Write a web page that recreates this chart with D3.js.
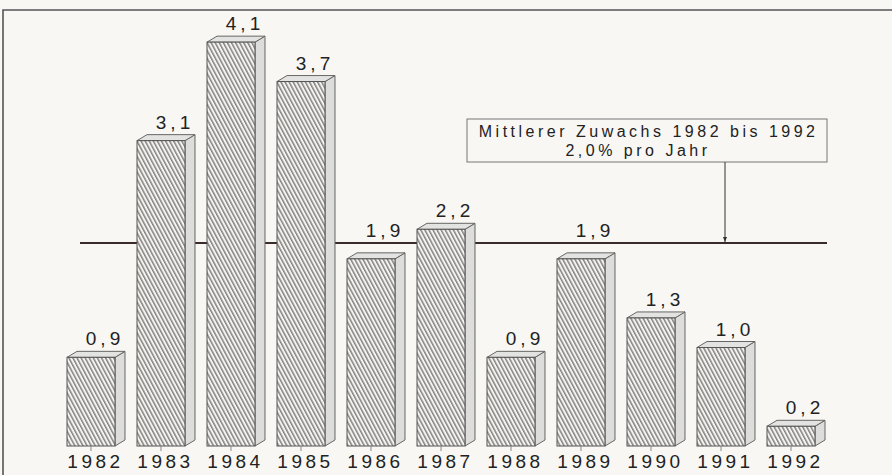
<!DOCTYPE html>
<html>
<head>
<meta charset="utf-8">
<script src="https://cdn.jsdelivr.net/npm/d3@7"></script>
<style>
  html, body { margin: 0; padding: 0; background: #f8f7f4; }
  svg { display: block; font-family: "Liberation Sans", Arial, Helvetica, sans-serif; }
</style>
</head>
<body>
<svg id="chart" width="892" height="475"></svg>
<script>
// ---- data ----
const years = ["1982","1983","1984","1985","1986","1987","1988","1989","1990","1991","1992"];
const values = [0.9, 3.1, 4.1, 3.7, 1.9, 2.2, 0.9, 1.9, 1.3, 1.0, 0.2];
const valueLabels = ["0,9","3,1","4,1","3,7","1,9","2,2","0,9","1,9","1,3","1,0","0,2"];
const meanValue = 2.0;
const noteLines = ["Mittlerer Zuwachs 1982 bis 1992", "2,0% pro Jahr"];

// ---- setup ----
const svg = d3.select("#chart");
const W = 892, H = 475;
const dx = 10, dy = 6; // 3D depth

const x = d3.scaleBand().domain(years).range([67, 815]).paddingInner(0.3143).paddingOuter(0);
const y = d3.scaleLinear().domain([0, 4.5]).range([446, 446 - 4.5 * 98.5]);

// hatch pattern
const defs = svg.append("defs");
const pat = defs.append("pattern")
  .attr("id", "hatch").attr("patternUnits", "userSpaceOnUse")
  .attr("width", 3.6).attr("height", 4)
  .attr("patternTransform", "rotate(-28)");
pat.append("rect").attr("width", 3.6).attr("height", 4).attr("fill", "#f4f3f0");
pat.append("line").attr("x1", 0.8).attr("y1", 0).attr("x2", 0.8).attr("y2", 4)
  .attr("stroke", "#4a4a4a").attr("stroke-width", 1.0);

// background
svg.append("rect").attr("width", W).attr("height", H).attr("fill", "#f8f7f4");

// frame (top and left)
svg.append("path")
  .attr("d", `M3,${H} L3,10 L${W},10`)
  .attr("fill", "none").attr("stroke", "#555").attr("stroke-width", 1.6);

// mean line (drawn on the back plane, behind bars)
const meanY = y(meanValue) - dy;
svg.append("line")
  .attr("x1", 80).attr("x2", 827).attr("y1", meanY).attr("y2", meanY)
  .attr("stroke", "#3a2b2b").attr("stroke-width", 2.2);

// bars
const bw = x.bandwidth();
const g = svg.append("g");
years.forEach((yr, i) => {
  const v = values[i];
  const x0 = x(yr), x1 = x0 + bw;
  const yt = y(v), yb = y(0);
  // side face
  g.append("path")
    .attr("d", `M${x1},${yb} L${x1},${yt} L${x1 + dx},${yt - dy} L${x1 + dx},${yb - dy} Z`)
    .attr("fill", "#dddddb").attr("stroke", "#666").attr("stroke-width", 1);
  // top face
  g.append("path")
    .attr("d", `M${x0},${yt} L${x0 + dx},${yt - dy} L${x1 + dx},${yt - dy} L${x1},${yt} Z`)
    .attr("fill", "#e3e3e1").attr("stroke", "#666").attr("stroke-width", 1);
  // front face
  g.append("rect")
    .attr("x", x0).attr("y", yt).attr("width", bw).attr("height", yb - yt)
    .attr("fill", "url(#hatch)").attr("stroke", "#555").attr("stroke-width", 1);
  // value label (lifted above the mean line if it would collide)
  let ly = yt - dy - 6;
  if (ly > meanY - 4 && ly - 14 < meanY + 3) ly = meanY - 6;
  g.append("text")
    .attr("x", x0 + bw / 2 + 14).attr("y", ly)
    .attr("text-anchor", "middle").attr("font-size", 19).attr("letter-spacing", 4)
    .attr("fill", "#222").text(valueLabels[i]);
});

// x axis ticks and labels
const axis = svg.append("g");
years.forEach(yr => {
  const cx = x(yr) + bw / 2;
  axis.append("line").attr("x1", cx).attr("x2", cx).attr("y1", y(0)).attr("y2", y(0) + 5)
    .attr("stroke", "#888").attr("stroke-width", 1);
  axis.append("text").attr("x", cx + 4.5).attr("y", 468)
    .attr("text-anchor", "middle").attr("font-size", 19).attr("letter-spacing", 3.5)
    .attr("fill", "#222").text(yr);
});

// annotation box
const boxL = 467, boxR = 827, boxT = 119, boxB = 162;
svg.append("rect").attr("x", boxL).attr("y", boxT).attr("width", boxR - boxL).attr("height", boxB - boxT)
  .attr("fill", "#f8f7f4").attr("stroke", "#777").attr("stroke-width", 1);
svg.append("text").attr("x", 815 + 3.5).attr("y", 137).attr("text-anchor", "end")
  .attr("font-size", 16).attr("letter-spacing", 3.5).attr("fill", "#222").text(noteLines[0]);
svg.append("text").attr("x", 707 + 3.5).attr("y", 156).attr("text-anchor", "end")
  .attr("font-size", 16).attr("letter-spacing", 3.5).attr("fill", "#222").text(noteLines[1]);

// arrow
defs.append("marker").attr("id", "arr").attr("viewBox", "0 0 10 10")
  .attr("refX", 10).attr("refY", 5).attr("markerWidth", 5).attr("markerHeight", 5)
  .attr("orient", "auto")
  .append("path").attr("d", "M0,1 L10,5 L0,9 Z").attr("fill", "#333");
svg.append("line").attr("x1", 725).attr("x2", 725).attr("y1", boxB).attr("y2", meanY - 1)
  .attr("stroke", "#333").attr("stroke-width", 1).attr("marker-end", "url(#arr)");
</script>
</body>
</html>
